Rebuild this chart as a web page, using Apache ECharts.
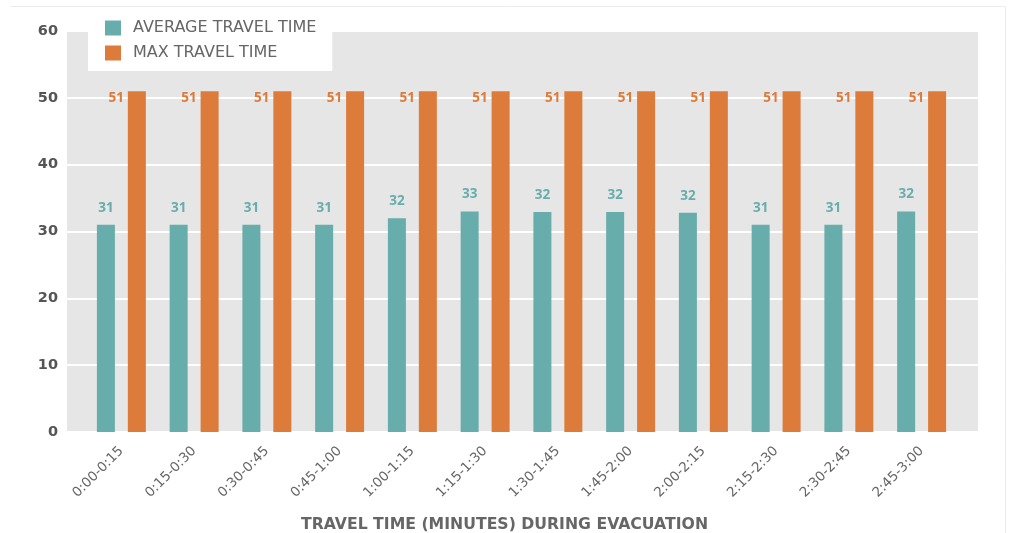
<!DOCTYPE html>
<html><head><meta charset="utf-8">
<script src="https://cdn.jsdelivr.net/npm/echarts@6/dist/echarts.min.js"></script>
<style>html,body{margin:0;padding:0;background:#fff}#c{width:1009px;height:533px}</style>
</head><body><div id="c"></div>
<script>
const categories = ['0:00-0:15','0:15-0:30','0:30-0:45','0:45-1:00','1:00-1:15','1:15-1:30','1:30-1:45','1:45-2:00','2:00-2:15','2:15-2:30','2:30-2:45','2:45-3:00'];
const avgValues = [31, 31, 31, 31, 32, 33, 32.9, 32.9, 32.8, 31, 31, 33];
const avgLabels = ['31','31','31','31','32','33','32','32','32','31','31','32'];
const maxValues = [51, 51, 51, 51, 51, 51, 51, 51, 51, 51, 51, 51];
const maxLabels = ['51','51','51','51','51','51','51','51','51','51','51','51'];
const yTicks = [0, 10, 20, 30, 40, 50, 60];
const seriesNames = ['AVERAGE TRAVEL TIME', 'MAX TRAVEL TIME'];
const xTitle = 'TRAVEL TIME (MINUTES) DURING EVACUATION';

const FONT = '"Open Sans"';
const WIDE = '"DejaVu Sans"';
const TEAL = '#67adac';
const ORANGE = '#dc7b3a';
const chart = echarts.init(document.getElementById('c'));
chart.setOption({
  animation: false,
  textStyle: { fontFamily: FONT },
  title: { text: xTitle, left: 'center', top: 512,
    textStyle: { fontFamily: WIDE, fontSize: 15.7, fontWeight: 'bold', color: '#666' } },
  graphic: [
    { type: 'line', shape: { x1: 10, y1: 6.5, x2: 1005.5, y2: 6.5 }, style: { stroke: '#ececec', lineWidth: 1 } },
    { type: 'line', shape: { x1: 1005.5, y1: 6.5, x2: 1005.5, y2: 533 }, style: { stroke: '#ececec', lineWidth: 1 } }
  ],
  legend: {
    orient: 'vertical', left: 88, top: 7,
    backgroundColor: '#fff',
    padding: [13, 16, 10, 17],
    itemWidth: 16, itemHeight: 15, itemGap: 9,
    icon: 'rect',
    textStyle: { fontFamily: WIDE, fontSize: 16, color: '#666', padding: [0, 0, 0, 7] },
    data: seriesNames
  },
  grid: [
    { left: 67, right: 31, top: 31, bottom: 101, show: true, backgroundColor: '#e6e6e6', borderWidth: 0 },
    { left: 85, right: 51, top: 31, bottom: 101 }
  ],
  xAxis: [
    { type: 'value', gridIndex: 0, show: false, min: 0, max: 1 },
    { type: 'category', gridIndex: 1, data: categories,
      axisLine: { show: false }, axisTick: { show: false },
      axisLabel: { rotate: 45, fontSize: 13.5, color: '#666', margin: 17, fontFamily: WIDE } }
  ],
  yAxis: [
    { type: 'value', gridIndex: 0, min: 0, max: 60, interval: 10,
      axisLine: { show: false }, axisTick: { show: false },
      axisLabel: { fontSize: 14.5, fontWeight: 'bold', color: '#555', margin: 9, fontFamily: WIDE,
        formatter: v => yTicks.includes(v) ? String(v) : '' },
      splitLine: { lineStyle: { color: '#fff', width: 2 } } },
    { type: 'value', gridIndex: 1, min: 0, max: 60, interval: 10, show: false, splitLine: { show: false } }
  ],
  series: [
    { name: seriesNames[0], type: 'bar', xAxisIndex: 1, yAxisIndex: 1,
      data: avgValues, barWidth: 18, barGap: '72%', itemStyle: { color: TEAL },
      label: { show: true, position: 'top', distance: 10, fontSize: 13.5, fontWeight: 'bold', color: TEAL,
        fontFamily: FONT, formatter: p => avgLabels[p.dataIndex] } },
    { name: seriesNames[1], type: 'bar', xAxisIndex: 1, yAxisIndex: 1,
      data: maxValues, barWidth: 18, itemStyle: { color: ORANGE },
      label: { show: true, position: [-4, 0], align: 'right', verticalAlign: 'top', fontSize: 13.5, fontWeight: 'bold',
        color: ORANGE, fontFamily: FONT, formatter: p => maxLabels[p.dataIndex] } }
  ]
});
</script></body></html>
